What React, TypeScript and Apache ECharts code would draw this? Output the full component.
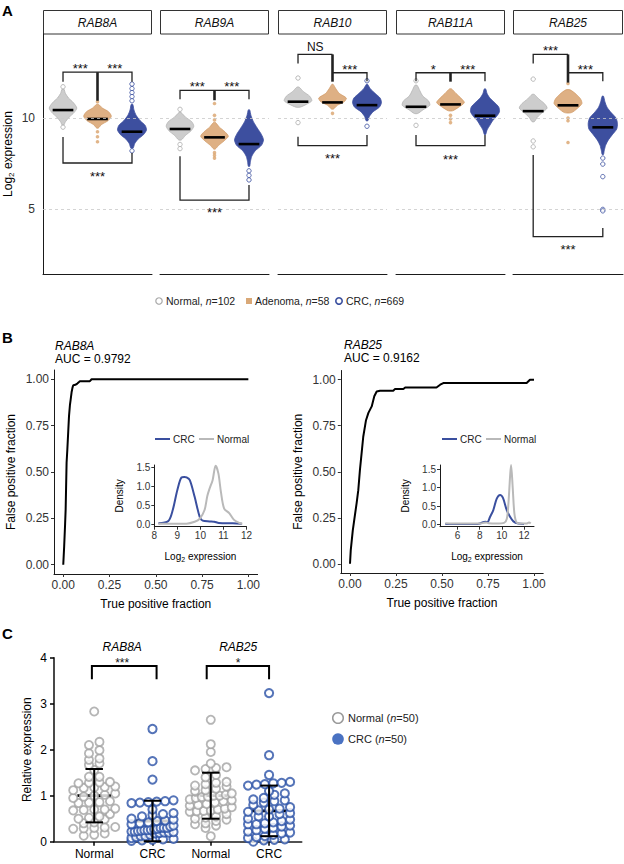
import React, { useEffect, useRef } from 'react';
import * as echarts from 'echarts';

const FONT = '"Liberation Sans", Arial, Helvetica, sans-serif';

/* ===================== Panel A data ===================== */
const genesA = ['RAB8A', 'RAB9A', 'RAB10', 'RAB11A', 'RAB25'];
const groupNamesA = ['Normal', 'Adenoma', 'CRC'];
const groupCountsA = [102, 58, 669];
const yTicksA = [5, 10];

// medians [Normal, Adenoma, CRC]
const mediansRAB8A = [10.44, 9.95, 9.25];
const mediansRAB9A = [9.4, 8.94, 8.57];
const mediansRAB10 = [10.9, 10.86, 10.71];
const mediansRAB11A = [10.62, 10.75, 10.13];
const mediansRAB25 = [10.38, 10.7, 9.49];

// outline of each dense swarm: [log2 expression, relative half-width]
const swarmRAB8A_Normal = [[11.6, 0.06], [11.35, 0.18], [11.1, 0.4], [10.85, 0.75], [10.55, 1.0], [10.3, 0.8], [10.05, 0.45], [9.8, 0.18], [9.6, 0.05]];
const swarmRAB8A_Adenoma = [[10.75, 0.08], [10.55, 0.35], [10.35, 0.8], [10.1, 1.0], [9.85, 0.75], [9.65, 0.3], [9.45, 0.06]];
const swarmRAB8A_CRC = [[10.75, 0.06], [10.45, 0.14], [10.15, 0.3], [9.85, 0.6], [9.6, 0.95], [9.35, 1.05], [9.1, 0.85], [8.85, 0.45], [8.6, 0.2], [8.35, 0.08]];
const swarmRAB9A_Normal = [[10.3, 0.08], [10.05, 0.4], [9.8, 0.85], [9.55, 1.0], [9.3, 0.8], [9.05, 0.4], [8.8, 0.1]];
const swarmRAB9A_Adenoma = [[9.75, 0.08], [9.5, 0.35], [9.25, 0.75], [9.0, 1.0], [8.75, 0.7], [8.5, 0.3], [8.3, 0.06]];
const swarmRAB9A_CRC = [[10.45, 0.05], [10.15, 0.14], [9.8, 0.32], [9.45, 0.6], [9.1, 0.9], [8.8, 1.05], [8.5, 0.9], [8.2, 0.45], [7.9, 0.2], [7.6, 0.1], [7.35, 0.05]];
const swarmRAB10_Normal = [[11.7, 0.08], [11.45, 0.4], [11.2, 0.85], [10.95, 1.0], [10.75, 0.6], [10.6, 0.15]];
const swarmRAB10_Adenoma = [[11.85, 0.05], [11.6, 0.25], [11.35, 0.5], [11.1, 1.0], [10.9, 0.85], [10.7, 0.35], [10.5, 0.08]];
const swarmRAB10_CRC = [[11.85, 0.05], [11.6, 0.25], [11.35, 0.6], [11.1, 0.95], [10.85, 1.05], [10.6, 0.9], [10.35, 0.45], [10.1, 0.18], [9.85, 0.06]];
const swarmRAB11A_Normal = [[11.8, 0.08], [11.5, 0.28], [11.2, 0.5], [10.95, 0.9], [10.7, 1.0], [10.45, 0.5], [10.25, 0.12]];
const swarmRAB11A_Adenoma = [[11.6, 0.08], [11.35, 0.4], [11.1, 0.75], [10.85, 1.0], [10.6, 0.6], [10.4, 0.15]];
const swarmRAB11A_CRC = [[11.6, 0.05], [11.35, 0.15], [11.1, 0.35], [10.85, 0.7], [10.6, 1.0], [10.35, 1.05], [10.1, 0.85], [9.85, 0.55], [9.6, 0.35], [9.35, 0.15], [9.1, 0.05]];
const swarmRAB25_Normal = [[11.3, 0.08], [11.05, 0.4], [10.8, 0.8], [10.55, 1.0], [10.3, 0.65], [10.05, 0.3], [9.8, 0.08]];
const swarmRAB25_Adenoma = [[11.55, 0.15], [11.3, 0.6], [11.05, 0.9], [10.8, 1.0], [10.55, 0.7], [10.3, 0.25]];
const swarmRAB25_CRC = [[11.2, 0.05], [10.9, 0.15], [10.6, 0.3], [10.3, 0.6], [10.0, 0.95], [9.7, 1.05], [9.4, 1.0], [9.1, 0.7], [8.8, 0.4], [8.5, 0.2], [8.2, 0.1], [8.0, 0.05]];

// isolated samples outside the dense swarms
const pointsRAB8A_Normal = [11.72, 9.5];
const pointsRAB8A_Adenoma = [10.9, 9.25, 8.97, 8.7];
const pointsRAB8A_CRC = [11.87, 11.62, 11.4, 11.18, 10.95, 8.2];
const pointsRAB9A_Normal = [10.48, 8.55, 8.32];
const pointsRAB9A_Adenoma = [10.8, 10.15, 9.9, 8.1, 7.95, 7.8];
const pointsRAB9A_CRC = [7.1, 6.85, 6.6];
const pointsRAB10_Normal = [12.2, 9.75];
const pointsRAB10_Adenoma = [10.26];
const pointsRAB10_CRC = [12.05, 9.55];
const pointsRAB11A_Normal = [12.05, 9.6];
const pointsRAB11A_Adenoma = [10.15, 9.95, 9.75];
const pointsRAB11A_CRC: number[] = [];
const pointsRAB25_Normal = [12.14, 8.74, 8.42];
const pointsRAB25_Adenoma = [11.9, 10.0, 9.85, 8.66];
const pointsRAB25_CRC = [7.8, 7.47, 6.78, 4.98, 4.9];

// significance brackets, in [group position, log2 expression]
const signifRAB8A = {
  lines: [[[1, 12.0], [1, 12.52], [3, 12.52], [3, 12.0]], [[1, 8.96], [1, 7.53], [3, 7.53], [3, 8.08]]],
  stems: [[[2, 12.52], [2, 10.95]]],
  labels: [[1.5, 12.87, '***'], [2.5, 12.87, '***'], [2, 6.98, '***']],
};
const signifRAB9A = {
  lines: [[[1, 11.03], [1, 11.52], [3, 11.52], [3, 11.03]], [[1, 7.9], [1, 5.49], [3, 5.49], [3, 6.32]]],
  stems: [[[2, 11.52], [2, 10.98]]],
  labels: [[1.5, 11.92, '***'], [2.5, 11.92, '***'], [2, 4.98, '***']],
};
const signifRAB10 = {
  lines: [[[1, 13.0], [1, 13.5], [2, 13.5]], [[2, 12.49], [3, 12.49], [3, 12.03]], [[1, 8.97], [1, 8.48], [3, 8.48], [3, 9.07]]],
  stems: [[[2, 13.5], [2, 12.0]]],
  labels: [[1.5, 13.92, 'NS'], [2.5, 12.86, '***'], [2, 7.93, '***']],
};
const signifRAB11A = {
  lines: [[[1, 12.03], [1, 12.49], [3, 12.49], [3, 12.03]], [[1, 9.07], [1, 8.48], [3, 8.48], [3, 9.07]]],
  stems: [[[2, 12.49], [2, 12.0]]],
  labels: [[1.5, 12.86, '*'], [2.5, 12.86, '***'], [2, 7.87, '***']],
};
const signifRAB25 = {
  lines: [[[1, 13.0], [1, 13.5], [2, 13.5]], [[2, 12.49], [3, 12.49], [3, 12.03]], [[1, 7.97], [1, 3.48], [3, 3.48], [3, 3.96]]],
  stems: [[[2, 13.5], [2, 11.95]]],
  labels: [[1.5, 13.86, '***'], [2.5, 12.86, '***'], [2, 2.93, '***']],
};

/* ===================== Panel B data ===================== */
const rocTicks = [0, 0.25, 0.5, 0.75, 1];
const rocRAB8A_TPF = [0, 0.005, 0.01, 0.013, 0.018, 0.022, 0.027, 0.031, 0.036, 0.04, 0.045, 0.05, 0.054, 0.065, 0.076, 0.085, 0.09, 0.144, 0.153, 1.0];
const rocRAB8A_FPF = [0, 0.1, 0.22, 0.3, 0.55, 0.62, 0.72, 0.8, 0.86, 0.89, 0.93, 0.955, 0.968, 0.97, 0.977, 0.985, 0.99, 0.99, 1.0, 1.0];
const rocRAB25_TPF = [0, 0.004, 0.015, 0.022, 0.036, 0.045, 0.054, 0.063, 0.072, 0.087, 0.1, 0.118, 0.132, 0.145, 0.163, 0.235, 0.245, 0.29, 0.3, 0.47, 0.49, 0.507, 0.96, 0.978, 1.0];
const rocRAB25_FPF = [0, 0.073, 0.18, 0.23, 0.33, 0.4, 0.51, 0.6, 0.69, 0.78, 0.82, 0.855, 0.91, 0.936, 0.94, 0.94, 0.95, 0.95, 0.958, 0.958, 0.973, 0.982, 0.982, 1.0, 1.0];
const aucRAB8A = '0.9792';
const aucRAB25 = '0.9162';

const densYTicks = [0, 0.5, 1, 1.5];
const densXTicksRAB8A = [8, 9, 10, 11, 12];
const densXTicksRAB25 = [6, 8, 10, 12];
const densRAB8A_CRC_x = [8.18, 8.61, 8.8, 9.0, 9.18, 9.3, 9.4, 9.54, 9.75, 9.97, 10.1, 10.4, 10.6, 10.8, 11.4, 11.8];
const densRAB8A_CRC_y = [0.03, 0.09, 0.38, 0.91, 1.24, 1.25, 1.24, 1.17, 0.73, 0.2, 0.1, 0.08, 0.07, 0.04, 0.03, 0.02];
const densRAB8A_Normal_x = [8.18, 9.4, 9.75, 9.97, 10.18, 10.3, 10.4, 10.53, 10.66, 10.78, 10.89, 11.03, 11.25, 11.46, 11.68, 11.82];
const densRAB8A_Normal_y = [0.02, 0.02, 0.07, 0.15, 0.38, 0.75, 0.95, 1.17, 1.55, 1.35, 0.86, 0.42, 0.3, 0.12, 0.04, 0.02];
const densRAB25_CRC_x = [4.9, 6, 7, 7.8, 8.1, 8.3, 8.5, 8.7, 8.93, 9.23, 9.54, 9.84, 10.1, 10.44, 10.75, 11.04, 11.49, 12.0];
const densRAB25_CRC_y = [0.01, 0.01, 0.01, 0.01, 0.03, 0.06, 0.07, 0.06, 0.2, 0.39, 0.7, 0.8, 0.72, 0.39, 0.2, 0.08, 0.02, 0.01];
const densRAB25_Normal_x = [4.9, 6, 7, 8, 8.4, 8.6, 8.8, 9.5, 10.2, 10.45, 10.6, 10.74, 10.83, 10.98, 11.13, 11.34, 11.8, 12.2, 12.45, 12.6];
const densRAB25_Normal_y = [0.03, 0.02, 0.02, 0.02, 0.04, 0.05, 0.03, 0.02, 0.04, 0.15, 0.6, 1.3, 1.62, 1.0, 0.3, 0.05, 0.02, 0.02, 0.05, 0.02];

/* ===================== Panel C data ===================== */
const cCategories = ['Normal', 'CRC', 'Normal', 'CRC'];
const cYTicksMax = 4;
const cNormalRAB8A = [2.83, 2.17, 2.1, 1.99, 1.92, 1.81, 1.78, 1.7, 1.67, 1.56, 1.41, 1.41, 1.3, 1.29, 1.28, 1.27, 1.2, 1.19, 1.18, 1.17, 1.12, 1.05, 1.02, 1.0, 0.98, 0.95, 0.88, 0.86, 0.85, 0.84, 0.72, 0.7, 0.7, 0.69, 0.68, 0.6, 0.55, 0.52, 0.5, 0.49, 0.42, 0.4, 0.32, 0.31, 0.3, 0.29, 0.28, 0.18, 0.15, 0.13];
const cCrcRAB8A = [2.45, 1.75, 1.35, 0.9, 0.88, 0.87, 0.86, 0.85, 0.84, 0.7, 0.62, 0.6, 0.58, 0.55, 0.5, 0.48, 0.46, 0.45, 0.42, 0.4, 0.38, 0.35, 0.33, 0.3, 0.3, 0.3, 0.28, 0.27, 0.26, 0.25, 0.25, 0.24, 0.23, 0.22, 0.22, 0.21, 0.2, 0.2, 0.19, 0.18, 0.15, 0.12, 0.12, 0.1, 0.08, 0.06, 0.05, 0.04, 0.03, 0.02];
const cNormalRAB25 = [2.65, 2.12, 1.95, 1.7, 1.62, 1.6, 1.58, 1.55, 1.45, 1.4, 1.3, 1.28, 1.25, 1.22, 1.2, 1.15, 1.12, 1.1, 1.05, 1.02, 1.0, 1.0, 0.98, 0.97, 0.95, 0.92, 0.9, 0.88, 0.85, 0.82, 0.8, 0.78, 0.75, 0.72, 0.7, 0.68, 0.67, 0.66, 0.65, 0.6, 0.55, 0.52, 0.5, 0.48, 0.45, 0.4, 0.38, 0.35, 0.3, 0.12];
const cCrcRAB25 = [3.23, 1.88, 1.45, 1.3, 1.28, 1.27, 1.25, 1.24, 1.22, 1.1, 1.05, 1.02, 0.95, 0.92, 0.9, 0.88, 0.85, 0.8, 0.75, 0.72, 0.7, 0.68, 0.65, 0.62, 0.6, 0.55, 0.55, 0.5, 0.48, 0.45, 0.42, 0.4, 0.38, 0.38, 0.35, 0.33, 0.3, 0.28, 0.25, 0.22, 0.2, 0.18, 0.15, 0.12, 0.1, 0.08, 0.05, 0.04, 0.03, 0.0];
const cMeans = [1.0, 0.45, 1.0, 0.67];
const cSDs = [0.58, 0.44, 0.5, 0.55];
const cBrackets = [[[0.96, 3.53], [0.96, 3.82], [2.07, 3.82], [2.07, 3.53]], [[2.93, 3.53], [2.93, 3.82], [4.0, 3.82], [4.0, 3.53]]];
const cLabels = [[1.48, 3.95, '***'], [3.47, 3.95, '*']];
const cGenes = [[1.48, 4.23, 'RAB8A'], [3.47, 4.23, 'RAB25']];

/* ===================== layout / style ===================== */
const A_LEFT = [43, 160, 278, 396, 513];
const A_W = [109, 109, 109, 109, 110];
const A_TOP = 34;
const A_H = 240;
const A_YMIN = 1.43;
const A_YMAX = 14.62;
const A_XMIN = 0.42;
const A_XMAX = 3.58;
const HALF_W = 0.4;
const A_FILL = ['#cdcdcd', '#deb084', '#3d4f9f'];
const A_STROKE = ['#b4b4b4', '#d29c68', '#3d4f9f'];
const BLUE = '#3a4f9f';
const GREY = '#b9b9b9';

const C_GRID = { left: 54, top: 657.7, width: 247.7, height: 184 };
const C_XMIN = 0.31;
const C_XMAX = 4.56;

const zip = (xs: number[], ys: number[]) => xs.map((x, k) => [x, ys[k]]);

function swarmLayout(values: number[], center: number) {
  const xPx = C_GRID.width / (C_XMAX - C_XMIN);
  const yPx = C_GRID.height / cYTicksMax;
  const ROW = 6.5, GAP = 10.5, HALF = 21;
  const sorted = values.slice().sort((a, b) => a - b);
  const bins = new Map<number, number[]>();
  sorted.forEach((v) => {
    const b = Math.round((v * yPx) / ROW);
    if (!bins.has(b)) bins.set(b, []);
    bins.get(b)!.push(v);
  });
  const out: number[][] = [];
  bins.forEach((vals) => {
    const n = vals.length;
    const sp = n > 1 ? Math.min(GAP, (2 * HALF) / (n - 1)) : 0;
    vals.forEach((v, k) => {
      out.push([center + ((k - (n - 1) / 2) * sp) / xPx, v]);
    });
  });
  return out;
}

function buildOption() {
  const mediansA = [mediansRAB8A, mediansRAB9A, mediansRAB10, mediansRAB11A, mediansRAB25];
  const swarmsA = [
    [swarmRAB8A_Normal, swarmRAB8A_Adenoma, swarmRAB8A_CRC],
    [swarmRAB9A_Normal, swarmRAB9A_Adenoma, swarmRAB9A_CRC],
    [swarmRAB10_Normal, swarmRAB10_Adenoma, swarmRAB10_CRC],
    [swarmRAB11A_Normal, swarmRAB11A_Adenoma, swarmRAB11A_CRC],
    [swarmRAB25_Normal, swarmRAB25_Adenoma, swarmRAB25_CRC],
  ];
  const pointsA = [
    [pointsRAB8A_Normal, pointsRAB8A_Adenoma, pointsRAB8A_CRC],
    [pointsRAB9A_Normal, pointsRAB9A_Adenoma, pointsRAB9A_CRC],
    [pointsRAB10_Normal, pointsRAB10_Adenoma, pointsRAB10_CRC],
    [pointsRAB11A_Normal, pointsRAB11A_Adenoma, pointsRAB11A_CRC],
    [pointsRAB25_Normal, pointsRAB25_Adenoma, pointsRAB25_CRC],
  ];
  const signifA = [signifRAB8A, signifRAB9A, signifRAB10, signifRAB11A, signifRAB25];

  const grid: any[] = [];
  const xAxis: any[] = [];
  const yAxis: any[] = [];
  const series: any[] = [];
  const axLine = (w = 1) => ({ show: true, onZero: false, lineStyle: { color: '#1a1a1a', width: w } });
  const tickStyle = { color: '#333', width: 1 };

  /* ---------- Panel A ---------- */
  genesA.forEach((gene, i) => {
    grid.push({ left: A_LEFT[i], top: A_TOP, width: A_W[i], height: A_H, outerBoundsMode: 'none' });
    xAxis.push({
      type: 'value', gridIndex: i, min: A_XMIN, max: A_XMAX,
      axisLine: axLine(1), axisTick: { show: false }, axisLabel: { show: false }, splitLine: { show: false },
    });
    if (i === 0) {
      yAxis.push({
        type: 'value', gridIndex: 0, min: A_YMIN, max: A_YMAX,
        axisLine: axLine(1), axisTick: { show: false }, splitLine: { show: false },
        axisLabel: { customValues: yTicksA, fontSize: 12, color: '#333', fontFamily: FONT, margin: 8 },
        name: '{a|Log}{b|2}{a| expression}', nameLocation: 'middle', nameGap: 28, nameRotate: 90,
        nameTextStyle: {
          fontFamily: FONT, fontSize: 12, color: '#000',
          rich: {
            a: { fontFamily: FONT, fontSize: 12, color: '#000' },
            b: { fontFamily: FONT, fontSize: 8, color: '#000', padding: [6, 0, 0, 0] },
          },
        },
      });
    } else {
      yAxis.push({ type: 'value', gridIndex: i, min: A_YMIN, max: A_YMAX, show: false, splitLine: { show: false } });
    }

    // dashed reference lines
    series.push({
      type: 'line', xAxisIndex: i, yAxisIndex: i, data: [[2, 10]], symbol: 'none', showSymbol: false,
      lineStyle: { opacity: 0 }, silent: true, z: 1,
      markLine: {
        silent: true, symbol: 'none', label: { show: false },
        lineStyle: { color: '#c9c9c9', type: [3, 3], width: 0.8 },
        data: yTicksA.map((v) => ({ yAxis: v })),
      },
    });

    // dense swarms
    series.push({
      type: 'custom', xAxisIndex: i, yAxisIndex: i, z: 2, clip: false,
      data: mediansA[i].map((m, g) => [g, m]),
      renderItem: (params: any, api: any) => {
        const g = api.value(0);
        const prof = swarmsA[i][g];
        const pos = g + 1;
        const pts: number[][] = [];
        prof.forEach(([v, w]) => pts.push(api.coord([pos + w * HALF_W, v])));
        for (let k = prof.length - 1; k >= 0; k--) pts.push(api.coord([pos - prof[k][1] * HALF_W, prof[k][0]]));
        return {
          type: 'polygon', shape: { points: pts, smooth: 0.25 },
          style: { fill: A_FILL[g], stroke: A_STROKE[g], lineWidth: 0.8 },
        };
      },
    });

    // isolated points
    groupNamesA.forEach((gname, g) => {
      const isAden = g === 1;
      series.push({
        type: 'scatter', name: gname, xAxisIndex: i, yAxisIndex: i, z: 3, clip: false,
        data: pointsA[i][g].map((v) => [g + 1, v]),
        symbol: 'circle', symbolSize: isAden ? 3.6 : 4.4,
        itemStyle: isAden
          ? { color: '#d9a26c' }
          : { color: '#ffffff', borderColor: g === 0 ? '#aaaaaa' : BLUE, borderWidth: 1 },
      });
    });

    // medians
    series.push({
      type: 'custom', xAxisIndex: i, yAxisIndex: i, z: 4, clip: false,
      data: mediansA[i].map((m, g) => [g + 1, m]),
      renderItem: (params: any, api: any) => {
        const x = api.value(0), y = api.value(1);
        const p1 = api.coord([x - 0.3, y]);
        const p2 = api.coord([x + 0.3, y]);
        return { type: 'line', shape: { x1: p1[0], y1: p1[1], x2: p2[0], y2: p2[1] }, style: { stroke: '#000', lineWidth: 2.6 } };
      },
    });

    // significance brackets
    series.push({
      type: 'custom', xAxisIndex: i, yAxisIndex: i, z: 5, clip: false, silent: true,
      data: [[2, 10]],
      renderItem: (params: any, api: any) => {
        const s = signifA[i];
        const children: any[] = [];
        s.lines.forEach((ln: number[][]) => children.push({
          type: 'polyline', shape: { points: ln.map((p) => api.coord(p)) },
          style: { stroke: '#222', lineWidth: 1.3, fill: null },
        }));
        s.stems.forEach((ln: number[][]) => children.push({
          type: 'polyline', shape: { points: ln.map((p) => api.coord(p)) },
          style: { stroke: '#222', lineWidth: 2.6, fill: null },
        }));
        s.labels.forEach((lb: any[]) => {
          const c = api.coord([lb[0], lb[1]]);
          const star = String(lb[2]).indexOf('*') >= 0;
          children.push({
            type: 'text', x: c[0], y: c[1] + (star ? 3 : 0),
            style: { text: lb[2], fill: '#111', fontSize: star ? 13 : 12, fontFamily: FONT, align: 'center', verticalAlign: 'middle' },
          });
        });
        return { type: 'group', children };
      },
    });
  });

  /* ---------- Panel B ---------- */
  const rocAxisX = (gi: number) => ({
    type: 'value', gridIndex: gi, min: -0.05, max: 1.05,
    axisLine: axLine(1), splitLine: { show: false },
    axisTick: { customValues: rocTicks, length: 3, lineStyle: tickStyle },
    axisLabel: { customValues: rocTicks, formatter: (v: number) => v.toFixed(2), fontSize: 12, color: '#333', fontFamily: FONT, margin: 5 },
    name: 'True positive fraction', nameLocation: 'middle', nameGap: 24,
    nameTextStyle: { fontSize: 12, color: '#000', fontFamily: FONT },
  });
  const rocAxisY = (gi: number) => ({
    type: 'value', gridIndex: gi, min: -0.05, max: 1.05,
    axisLine: axLine(1), splitLine: { show: false },
    axisTick: { customValues: rocTicks, length: 3, lineStyle: tickStyle },
    axisLabel: { customValues: rocTicks, formatter: (v: number) => v.toFixed(2), fontSize: 12, color: '#333', fontFamily: FONT, margin: 5 },
    name: 'False positive fraction', nameLocation: 'middle', nameGap: 37, nameRotate: 90,
    nameTextStyle: { fontSize: 12, color: '#000', fontFamily: FONT },
  });
  grid.push({ left: 54, top: 370, width: 203.6, height: 204, outerBoundsMode: 'none' }); // 5
  grid.push({ left: 340.8, top: 370.5, width: 202.4, height: 202.5, outerBoundsMode: 'none' }); // 6
  grid.push({ left: 154.3, top: 465, width: 92.2, height: 61.7, outerBoundsMode: 'none' }); // 7
  grid.push({ left: 440, top: 465, width: 94, height: 61.7, outerBoundsMode: 'none' }); // 8
  xAxis.push(rocAxisX(5));
  yAxis.push(rocAxisY(5));
  xAxis.push(rocAxisX(6));
  yAxis.push(rocAxisY(6));

  const densX = (gi: number, min: number, max: number, ticks: number[]) => ({
    type: 'value', gridIndex: gi, min, max,
    axisLine: axLine(1), splitLine: { show: false },
    axisTick: { customValues: ticks, length: 3, lineStyle: tickStyle },
    axisLabel: { customValues: ticks, fontSize: 10, color: '#333', fontFamily: FONT, margin: 4 },
    name: '{a|Log}{b|2}{a| expression}', nameLocation: 'middle', nameGap: 24,
    nameTextStyle: {
      fontSize: 10, color: '#000', fontFamily: FONT,
      rich: { a: { fontSize: 10, fontFamily: FONT, color: '#000' }, b: { fontSize: 7, fontFamily: FONT, color: '#000', padding: [5, 0, 0, 0] } },
    },
  });
  const densY = (gi: number, min: number, max: number) => ({
    type: 'value', gridIndex: gi, min, max,
    axisLine: axLine(1), splitLine: { show: false },
    axisTick: { customValues: densYTicks, length: 3, lineStyle: tickStyle },
    axisLabel: { customValues: densYTicks, formatter: (v: number) => v.toFixed(1), fontSize: 10, color: '#333', fontFamily: FONT, margin: 4 },
    name: 'Density', nameLocation: 'middle', nameGap: 30, nameRotate: 90,
    nameTextStyle: { fontSize: 10, color: '#000', fontFamily: FONT },
  });
  xAxis.push(densX(7, 8, 12, densXTicksRAB8A));
  yAxis.push(densY(7, -0.06, 1.57));
  xAxis.push(densX(8, 4.42, 12.9, densXTicksRAB25));
  yAxis.push(densY(8, -0.065, 1.62));

  series.push({ type: 'line', name: 'ROC RAB8A', xAxisIndex: 5, yAxisIndex: 5, data: zip(rocRAB8A_TPF, rocRAB8A_FPF), symbol: 'none', showSymbol: false, lineStyle: { color: '#000', width: 2 }, z: 3 });
  series.push({ type: 'line', name: 'ROC RAB25', xAxisIndex: 6, yAxisIndex: 6, data: zip(rocRAB25_TPF, rocRAB25_FPF), symbol: 'none', showSymbol: false, lineStyle: { color: '#000', width: 2 }, z: 3 });
  const densSeries = (gi: number, xs: number[], ys: number[], color: string, name: string) => ({
    type: 'line', name, xAxisIndex: gi, yAxisIndex: gi, data: zip(xs, ys), symbol: 'none', showSymbol: false,
    smooth: 0.3, lineStyle: { color, width: 2 }, z: 3, clip: false,
  });
  series.push(densSeries(7, densRAB8A_CRC_x, densRAB8A_CRC_y, BLUE, 'CRC'));
  series.push(densSeries(7, densRAB8A_Normal_x, densRAB8A_Normal_y, GREY, 'Normal'));
  series.push(densSeries(8, densRAB25_CRC_x, densRAB25_CRC_y, BLUE, 'CRC'));
  series.push(densSeries(8, densRAB25_Normal_x, densRAB25_Normal_y, GREY, 'Normal'));

  /* ---------- Panel C ---------- */
  grid.push({ ...C_GRID, outerBoundsMode: 'none' }); // 9
  xAxis.push({
    type: 'value', gridIndex: 9, min: C_XMIN, max: C_XMAX,
    axisLine: axLine(1.6), splitLine: { show: false },
    axisTick: { customValues: [1, 2, 3, 4], length: 4, lineStyle: { color: '#000', width: 1.5 } },
    axisLabel: { customValues: [1, 2, 3, 4], formatter: (v: number) => cCategories[Math.round(v) - 1] || '', fontSize: 12, color: '#000', fontFamily: FONT, margin: 6 },
  });
  yAxis.push({
    type: 'value', gridIndex: 9, min: 0, max: cYTicksMax, interval: 1,
    axisLine: axLine(1.6), splitLine: { show: false },
    axisTick: { show: true, length: 4, lineStyle: { color: '#000', width: 1.5 } },
    axisLabel: { fontSize: 12, color: '#000', fontFamily: FONT, margin: 7 },
    name: 'Relative expression', nameLocation: 'middle', nameGap: 21, nameRotate: 90,
    nameTextStyle: { fontSize: 12, color: '#000', fontFamily: FONT },
  });

  const cGroups = [cNormalRAB8A, cCrcRAB8A, cNormalRAB25, cCrcRAB25];
  const errItem = (api: any, parts: string) => {
    const x = api.value(0), m = api.value(1), sd = api.value(2);
    const ln = (a: number[], b: number[], w: number) => {
      const p = api.coord(a), q = api.coord(b);
      return { type: 'line', shape: { x1: p[0], y1: p[1], x2: q[0], y2: q[1] }, style: { stroke: '#000', lineWidth: w } };
    };
    const children: any[] = [];
    if (parts === 'mean') children.push(ln([x - 0.29, m], [x + 0.29, m], 2.8));
    if (parts === 'sd') {
      children.push(ln([x, m - sd], [x, m + sd], 2));
      children.push(ln([x - 0.15, m + sd], [x + 0.15, m + sd], 2));
      children.push(ln([x - 0.15, m - sd], [x + 0.15, m - sd], 2));
    }
    return { type: 'group', children };
  };
  // mean line under the points (white-filled rings interrupt it)
  series.push({
    type: 'custom', xAxisIndex: 9, yAxisIndex: 9, z: 2, clip: false, silent: true,
    data: cMeans.map((m, k) => [k + 1, m, cSDs[k]]),
    renderItem: (params: any, api: any) => errItem(api, 'mean'),
  });
  cGroups.forEach((vals, k) => {
    const crc = k % 2 === 1;
    series.push({
      type: 'scatter', name: cCategories[k], xAxisIndex: 9, yAxisIndex: 9, z: 3, clip: false,
      data: swarmLayout(vals, k + 1), symbol: 'circle', symbolSize: 8.2,
      itemStyle: { color: '#ffffff', borderColor: crc ? '#2a51a6' : '#a3a3a3', borderWidth: crc ? 2 : 1.8 },
    });
  });
  // SD bars above the points
  series.push({
    type: 'custom', xAxisIndex: 9, yAxisIndex: 9, z: 4, clip: false, silent: true,
    data: cMeans.map((m, k) => [k + 1, m, cSDs[k]]),
    renderItem: (params: any, api: any) => errItem(api, 'sd'),
  });
  series.push({
    type: 'custom', xAxisIndex: 9, yAxisIndex: 9, z: 4, clip: false, silent: true,
    data: [[2, 3]],
    renderItem: (params: any, api: any) => {
      const children: any[] = [];
      cBrackets.forEach((ln) => children.push({
        type: 'polyline', shape: { points: ln.map((p) => api.coord(p)) }, style: { stroke: '#000', lineWidth: 2, fill: null },
      }));
      cLabels.forEach((lb: any[]) => {
        const c = api.coord([lb[0], lb[1]]);
        children.push({ type: 'text', x: c[0], y: c[1] + 3, style: { text: lb[2], fill: '#111', fontSize: 12, fontFamily: FONT, align: 'center', verticalAlign: 'middle' } });
      });
      cGenes.forEach((lb: any[]) => {
        const c = api.coord([lb[0], lb[1]]);
        children.push({ type: 'text', x: c[0], y: c[1], style: { text: lb[2], fill: '#000', fontSize: 12, fontStyle: 'italic', fontFamily: FONT, align: 'center', verticalAlign: 'middle' } });
      });
      return { type: 'group', children };
    },
  });

  /* ---------- graphic: labels, strips, legends ---------- */
  const txt = (x: number, y: number, text: string, extra: any = {}) => ({
    type: 'text', x, y, silent: true,
    style: { text, fill: '#000', fontSize: 12, fontFamily: FONT, align: 'left', verticalAlign: 'middle', ...extra },
  });
  const richT = (size: number) => ({
    t: { fontSize: size, fontFamily: FONT, fill: '#222' },
    i: { fontSize: size, fontFamily: FONT, fill: '#222', fontStyle: 'italic' },
  });
  const elements: any[] = [];
  elements.push(txt(2, 10, 'A', { fontSize: 15, fontWeight: 'bold' }));
  elements.push(txt(2, 337, 'B', { fontSize: 15, fontWeight: 'bold' }));
  elements.push(txt(2, 633, 'C', { fontSize: 15, fontWeight: 'bold' }));
  genesA.forEach((gene, i) => {
    elements.push({ type: 'rect', shape: { x: A_LEFT[i] + 0.5, y: 10.5, width: A_W[i] - 1, height: 23.5 }, style: { fill: '#fff', stroke: '#333', lineWidth: 1 }, silent: true });
    elements.push(txt(A_LEFT[i] + A_W[i] / 2, 22.5, gene, { fontStyle: 'italic', align: 'center', fill: '#111' }));
  });
  // panel A legend
  const legY = 301;
  elements.push({ type: 'circle', shape: { cx: 159, cy: legY, r: 3.2 }, style: { fill: '#fff', stroke: '#a8a8a8', lineWidth: 1.2 }, silent: true });
  elements.push(txt(166, legY, `{t|${groupNamesA[0]}, }{i|n}{t|=${groupCountsA[0]}}`, { rich: richT(10.5) }));
  elements.push({ type: 'rect', shape: { x: 246, y: legY - 3, width: 6, height: 6 }, style: { fill: '#d9a877' }, silent: true });
  elements.push(txt(255, legY, `{t|${groupNamesA[1]}, }{i|n}{t|=${groupCountsA[1]}}`, { rich: richT(10.5) }));
  elements.push({ type: 'circle', shape: { cx: 339, cy: legY, r: 3.2 }, style: { fill: '#fff', stroke: BLUE, lineWidth: 1.6 }, silent: true });
  elements.push(txt(346, legY, `{t|${groupNamesA[2]}, }{i|n}{t|=${groupCountsA[2]}}`, { rich: richT(10.5) }));
  // panel B titles
  elements.push(txt(55, 346, 'RAB8A', { fontStyle: 'italic' }));
  elements.push(txt(55, 359, `AUC = ${aucRAB8A}`));
  elements.push(txt(344, 345, 'RAB25', { fontStyle: 'italic' }));
  elements.push(txt(344, 358, `AUC = ${aucRAB25}`));
  // inset legends
  [0, 287].forEach((dx) => {
    elements.push({ type: 'line', shape: { x1: 155 + dx, y1: 439, x2: 170 + dx, y2: 439 }, style: { stroke: BLUE, lineWidth: 2 }, silent: true });
    elements.push(txt(173 + dx, 439, 'CRC', { fontSize: 10, fill: '#222' }));
    elements.push({ type: 'line', shape: { x1: 199 + dx, y1: 439, x2: 214 + dx, y2: 439 }, style: { stroke: GREY, lineWidth: 2 }, silent: true });
    elements.push(txt(217 + dx, 439, 'Normal', { fontSize: 10, fill: '#222' }));
  });
  // panel C legend
  elements.push({ type: 'circle', shape: { cx: 338, cy: 718, r: 5.3 }, style: { fill: '#fff', stroke: '#9a9a9a', lineWidth: 1.5 }, silent: true });
  elements.push(txt(348, 718, '{t|Normal (}{i|n}{t|=50)}', { rich: richT(11) }));
  elements.push({ type: 'circle', shape: { cx: 338, cy: 739, r: 5.8 }, style: { fill: '#4a72c2' }, silent: true });
  elements.push(txt(348, 739, '{t|CRC (}{i|n}{t|=50)}', { rich: richT(11) }));

  return {
    animation: false,
    backgroundColor: '#ffffff',
    textStyle: { fontFamily: FONT },
    grid, xAxis, yAxis, series,
    graphic: { elements },
  };
}

export default function App() {
  const ref = useRef<HTMLDivElement | null>(null);
  useEffect(() => {
    if (!ref.current) return;
    const chart = echarts.init(ref.current, undefined, { renderer: 'svg' });
    chart.setOption(buildOption() as any);
    return () => {
      chart.dispose();
    };
  }, []);
  return (
    <div
      ref={ref}
      style={{ position: 'absolute', left: 0, top: 0, width: 624, height: 864, background: '#fff' }}
    />
  );
}
